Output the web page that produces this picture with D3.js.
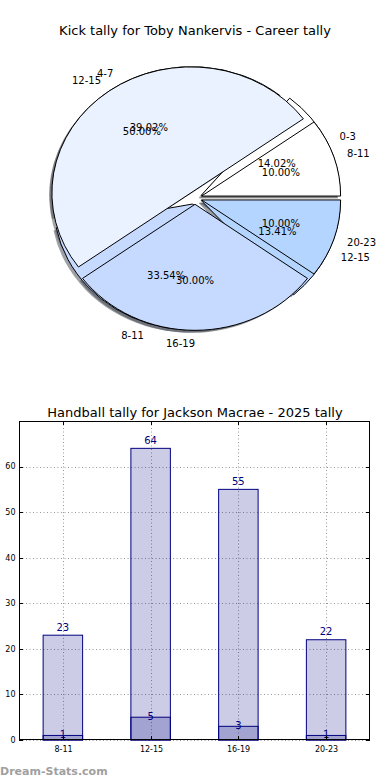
<!DOCTYPE html>
<html>
<head>
<meta charset="utf-8">
<script src="https://cdn.jsdelivr.net/npm/d3@7"></script>
<style>
html,body{margin:0;padding:0;background:#fff;}
svg{display:block;font-family:"DejaVu Sans",sans-serif;}
</style>
</head>
<body>
<svg id="chart" width="390" height="780"></svg>
<script>
// ---- data ----
const pieTitle = "Kick tally for Toby Nankervis - Career tally";
const pie1Labels = ["0-3", "4-7", "8-11", "12-15"];
const pie1Values = [23, 64, 55, 22];
const pie2Labels = ["8-11", "12-15", "16-19", "20-23"];
const pie2Values = [1, 5, 3, 1];
const pieColors = ["#ffffff", "#ebf2ff", "#c6d9ff", "#b4d5ff"];

const barTitle = "Handball tally for Jackson Macrae - 2025 tally";
const barCategories = ["8-11", "12-15", "16-19", "20-23"];
const barTotals = [23, 64, 55, 22];
const barInner = [1, 5, 3, 1];
const yTicks = [0, 10, 20, 30, 40, 50, 60];

// ---- pie chart ----
const svg = d3.select("#chart");
const cx = 195, cy = 198, rx = 139, ry = 126, explode = 0.05;

svg.append("text").attr("x", 195).attr("y", 35).attr("text-anchor", "middle")
  .attr("font-size", 13).attr("fill", "#000").text(pieTitle);

const pieGen = d3.pie().sort(null).value(d => d)
  .startAngle(Math.PI / 2).endAngle(Math.PI / 2 - 2 * Math.PI);
const arcGen = d3.arc().innerRadius(0).outerRadius(1);

function layout(labels, values) {
  const total = d3.sum(values);
  return pieGen(values).map((a, i) => {
    const m = (a.startAngle + a.endAngle) / 2;
    const ux = Math.sin(m), uy = -Math.cos(m);
    const ox = cx + explode * rx * ux, oy = cy + explode * ry * uy;
    return {a, i, ux, uy, ox, oy, label: labels[i],
      pct: (values[i] / total * 100).toFixed(2) + "%", color: pieColors[i]};
  });
}
const pies = [layout(pie1Labels, pie1Values), layout(pie2Labels, pie2Values)];

const gShadow = svg.append("g"), gWedge = svg.append("g"), gText = svg.append("g");
pies.forEach(p => {
  p.forEach(w => {
    const c = d3.rgb(w.color);
    gShadow.append("path").attr("d", arcGen(w.a))
      .attr("transform", `translate(${w.ox - 0.02 * rx},${w.oy + 0.02 * ry}) scale(${rx},${ry})`)
      .attr("fill", d3.rgb(c.r * 0.3, c.g * 0.3, c.b * 0.3)).attr("fill-opacity", 0.5);
  });
});
pies.forEach(p => {
  p.forEach(w => {
    gWedge.append("path").attr("d", arcGen(w.a))
      .attr("transform", `translate(${w.ox},${w.oy}) scale(${rx},${ry})`)
      .attr("fill", w.color).attr("stroke", "#000").attr("stroke-width", 1)
      .attr("vector-effect", "non-scaling-stroke").attr("stroke-linejoin", "miter");
  });
});
pies.forEach(p => {
  p.forEach(w => {
    gText.append("text")
      .attr("x", w.ox + 1.1 * rx * w.ux).attr("y", w.oy + 1.1 * ry * w.uy)
      .attr("dy", "0.36em").attr("text-anchor", w.ux > 0 ? "start" : "end")
      .attr("font-size", 10).attr("fill", "#000").text(w.label);
    gText.append("text")
      .attr("x", w.ox + 0.6 * rx * w.ux).attr("y", w.oy + 0.6 * ry * w.uy)
      .attr("dy", "0.36em").attr("text-anchor", "middle")
      .attr("font-size", 10).attr("fill", "#000").text(w.pct);
  });
});

// ---- bar chart ----
const L = 19, R = 370, T = 421, B = 740;
svg.append("text").attr("x", 195).attr("y", 417).attr("text-anchor", "middle")
  .attr("font-size", 13).attr("fill", "#000").text(barTitle);

const x = d3.scaleBand().domain(barCategories).range([L, R]).paddingInner(0.55).paddingOuter(0.275);
const y = d3.scaleLinear().domain([0, 70]).range([B, T]);

const grid = svg.append("g").attr("stroke", "#999").attr("stroke-width", 1)
  .attr("stroke-dasharray", "1,2.5");
yTicks.forEach(t => grid.append("line").attr("x1", L).attr("x2", R)
  .attr("y1", Math.round(y(t)) + 0.5).attr("y2", Math.round(y(t)) + 0.5));
barCategories.forEach(c => {
  const xc = Math.round(x(c) + x.bandwidth() / 2) + 0.5;
  grid.append("line").attr("x1", xc).attr("x2", xc).attr("y1", T).attr("y2", B);
});

const navy = "#000080";
[barTotals, barInner].forEach(vals => {
  svg.append("g").selectAll("rect").data(vals).enter().append("rect")
    .attr("x", (d, i) => x(barCategories[i]))
    .attr("y", d => y(d))
    .attr("width", x.bandwidth())
    .attr("height", d => B - y(d))
    .attr("fill", navy).attr("fill-opacity", 0.2)
    .attr("stroke", navy).attr("stroke-width", 1);
});

barTotals.forEach((v, i) => {
  svg.append("text").attr("x", x(barCategories[i]) + x.bandwidth() / 2)
    .attr("y", y(v + 1)).attr("text-anchor", "middle")
    .attr("font-size", 10).attr("fill", navy).text(v);
});
barInner.forEach((v, i) => {
  svg.append("text").attr("x", x(barCategories[i]) + x.bandwidth() / 2)
    .attr("y", y(v + 1)).attr("dy", "0.73em").attr("text-anchor", "middle")
    .attr("font-size", 10).attr("fill", navy).text(v);
});

// axes frame and ticks
svg.append("rect").attr("x", L + 0.5).attr("y", T + 0.5).attr("width", R - L - 1).attr("height", B - T - 1)
  .attr("fill", "none").attr("stroke", "#000").attr("stroke-width", 1);
const ticks = svg.append("g").attr("stroke", "#000").attr("stroke-width", 1);
yTicks.forEach(t => {
  const yy = Math.round(y(t)) + 0.5;
  ticks.append("line").attr("x1", L).attr("x2", L + 4).attr("y1", yy).attr("y2", yy);
  ticks.append("line").attr("x1", R - 4).attr("x2", R).attr("y1", yy).attr("y2", yy);
  svg.append("text").attr("x", 15.5).attr("y", y(t)).attr("dy", "0.36em")
    .attr("text-anchor", "end").attr("font-size", 8).attr("fill", "#000").text(t);
});
barCategories.forEach(c => {
  const xc = Math.round(x(c) + x.bandwidth() / 2) + 0.5;
  ticks.append("line").attr("x1", xc).attr("x2", xc).attr("y1", B - 4).attr("y2", B);
  ticks.append("line").attr("x1", xc).attr("x2", xc).attr("y1", T).attr("y2", T + 4);
  svg.append("text").attr("x", xc).attr("y", 751.5).attr("text-anchor", "middle")
    .attr("font-size", 8).attr("fill", "#000").text(c);
});

// watermark
svg.append("text").attr("x", 0).attr("y", 775).attr("font-size", 11).attr("font-weight", "bold")
  .attr("fill", "#a0a0a0").text("Dream-Stats.com");
</script>
</body>
</html>
